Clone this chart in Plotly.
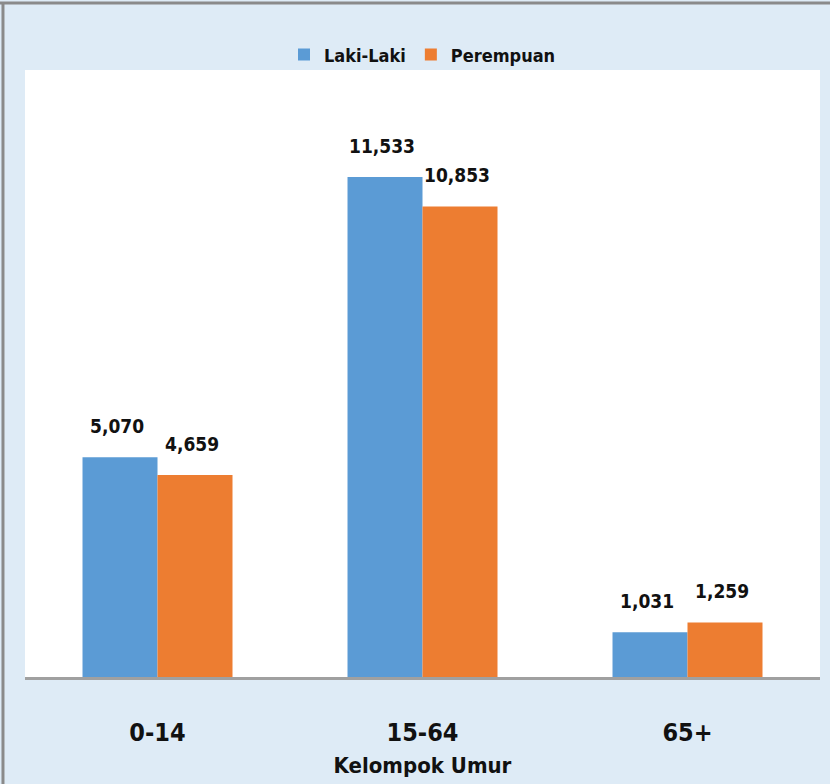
import plotly.graph_objects as go

categories = ["0-14", "15-64", "65+"]
laki = [5070, 11533, 1031]
perempuan = [4659, 10853, 1259]
series_names = ["Laki-Laki", "Perempuan"]

FONT = "DejaVu Sans Condensed, Liberation Sans Narrow, sans-serif"
BLUE = "#5B9BD5"
ORANGE = "#ED7D31"

fig = go.Figure()
fig.add_bar(x=categories, y=laki, name=series_names[0], marker_color=BLUE, marker_line_width=0)
fig.add_bar(x=categories, y=perempuan, name=series_names[1], marker_color=ORANGE, marker_line_width=0)

for vals, shift in ((laki, -37.5), (perempuan, 37.5)):
    for c, v in zip(categories, vals):
        fig.add_annotation(x=c, y=v, text=f"{v:,}", showarrow=False,
                           xshift=shift - 3, yshift=18, yanchor="bottom",
                           font=dict(family=FONT, size=19, color="#111", weight="bold"))

# outer frame lines (top and left)
fig.add_shape(type="line", xref="paper", yref="paper", x0=-0.04, x1=1.02, y0=1.1104, y1=1.1104,
              line=dict(color="#8A8A8A", width=3))
fig.add_shape(type="line", xref="paper", yref="paper", x0=-0.0277, x1=-0.0277, y0=-0.2, y1=1.112,
              line=dict(color="#8A8A8A", width=3))

fig.update_layout(
    width=830, height=784,
    margin=dict(l=25, r=10, t=70, b=107),
    paper_bgcolor="#DEEBF6",
    plot_bgcolor="#FFFFFF",
    barmode="group",
    bargap=0.434,
    bargroupgap=0,
    font=dict(family=FONT, color="#111"),
    legend=dict(orientation="h", x=0.5, xanchor="center", y=1.025, yanchor="middle",
                font=dict(family=FONT, size=18, color="#111", weight="bold"),
                bgcolor="rgba(0,0,0,0)", itemwidth=30, tracegroupgap=0),
    showlegend=True,
)
fig.update_xaxes(
    showline=True, linecolor="#A0A0A0", linewidth=2.5, ticks="",
    tickfont=dict(family=FONT, size=25, color="#111", weight="bold"),
    ticklabelstandoff=31,
    title=dict(text="Kelompok Umur", font=dict(family=FONT, size=22, color="#111", weight="bold"),
               standoff=12),
    fixedrange=True,
)
fig.update_yaxes(range=[0, 14000], showgrid=False, showticklabels=False, zeroline=False,
                 showline=False, fixedrange=True)

fig.write_html("out.html", config={"displayModeBar": False},
               post_script="document.body.style.margin='0';")
